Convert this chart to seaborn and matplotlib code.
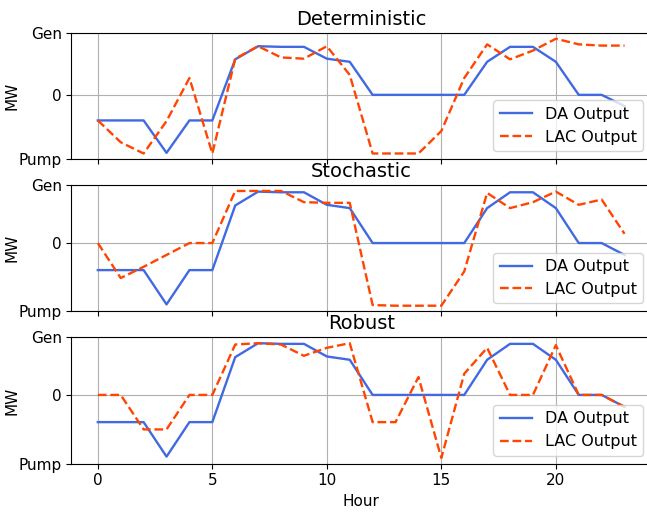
import seaborn as sns
import matplotlib.pyplot as plt

hours = list(range(24))

da_output = [-0.41, -0.41, -0.41, -0.93, -0.41, -0.41, 0.57, 0.78, 0.77, 0.77, 0.58, 0.53,
             0, 0, 0, 0, 0, 0.53, 0.77, 0.77, 0.53, 0, 0, -0.18]

lac_det = [-0.41, -0.76, -0.94, -0.42, 0.27, -0.94, 0.58, 0.78, 0.60, 0.58, 0.78, 0.32,
           -0.94, -0.94, -0.94, -0.58, 0.27, 0.81, 0.57, 0.71, 0.90, 0.81, 0.79, 0.79]
lac_sto = [0, -0.53, -0.36, -0.18, 0, 0, 0.79, 0.79, 0.79, 0.62, 0.61, 0.61,
           -0.94, -0.95, -0.95, -0.95, -0.43, 0.76, 0.53, 0.62, 0.78, 0.58, 0.66, 0.14]
lac_rob = [0, 0, -0.52, -0.52, 0, 0, 0.76, 0.78, 0.76, 0.59, 0.71, 0.78,
           -0.41, -0.41, 0.27, -0.95, 0.32, 0.71, 0, 0, 0.75, 0, 0, -0.18]

titles = ["Deterministic", "Stochastic", "Robust"]
lac_all = [lac_det, lac_sto, lac_rob]

plt.rcParams["xtick.labelsize"] = 11
plt.rcParams["ytick.labelsize"] = 11
plt.rcParams["axes.labelsize"] = 11
plt.rcParams["legend.fontsize"] = 11.5

fig, axes = plt.subplots(3, 1, sharex=True, figsize=(6.47, 5.14), dpi=100)
fig.subplots_adjust(left=0.1105, right=1.006, top=0.9358, bottom=0.0979, hspace=0.206)

for ax, title, lac in zip(axes, titles, lac_all):
    sns.lineplot(x=hours, y=da_output, ax=ax, color="royalblue", linewidth=1.7, label="DA Output")
    sns.lineplot(x=hours, y=lac, ax=ax, color="orangered", linewidth=1.7, linestyle="--", label="LAC Output")
    lo, hi = ax.get_ylim()
    ax.set_yticks([lo, 0, hi])
    ax.set_yticklabels(["Pump", "0", "Gen"])
    ax.set_ylim(lo, hi)
    ax.set_ylabel("MW")
    ax.yaxis.set_label_coords(-0.089, 0.5)
    ax.set_title(title, fontsize=14)
    ax.grid(True)
    ax.legend(loc="lower right")

axes[-1].set_xlabel("Hour")
axes[-1].set_xticks([0, 5, 10, 15, 20])

plt.savefig("out.png", dpi=100)
